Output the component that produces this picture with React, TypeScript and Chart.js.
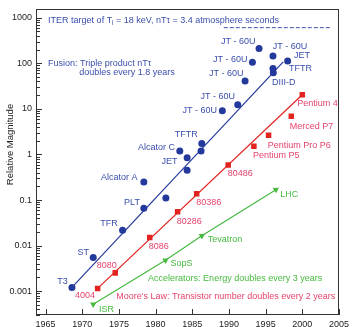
import { useEffect, useRef } from 'react';
import { Chart, registerables } from 'chart.js';

Chart.register(...registerables);

const FONT = '"Liberation Sans", Arial, Helvetica, sans-serif';
const BLUE = '#24399c';
const BLUE_TEXT = '#3b4eab';
const RED = '#e2231f';
const RED_TEXT = '#e4436c';
const GREEN = '#46b93f';
const AXIS = '#333333';

// Fusion devices (triple product)
const fusionNames = ['T3', 'ST', 'TFR', 'PLT', 'Alcator A', '?', 'Alcator C', 'JET', 'JET', 'TFTR', 'TFTR',
  'JT-60U', 'JT-60U', 'JT-60U', 'JT-60U', 'JT-60U', 'JT-60U', 'JET', 'TFTR', 'DIII-D'];
const fusionYears = [1968.6, 1971.5, 1975.5, 1978.4, 1978.4, 1981.4, 1983.3, 1984.3, 1984.3, 1986.3, 1986.2,
  1989.1, 1991.2, 1992.2, 1993.2, 1994.1, 1996.0, 1998.0, 1996.0, 1996.05];
const fusionValues = [0.00121, 0.0055, 0.0218, 0.0656, 0.25, 0.111, 1.19, 0.85, 0.45, 1.75, 1.19,
  9.1, 12.4, 41, 105, 211, 144, 112, 77, 62];
const fusionFitYears = [1968.6, 1997.4];
const fusionFitValues = [0.00121, 108];

// Intel processors (transistor count)
const intelNames = ['4004', '8080', '8086', '80286', '80386', '80486', 'Pentium P5', 'Pentium Pro P6', 'Merced P7', 'Pentium 4'];
const intelYears = [1972.1, 1974.5, 1979.2, 1983.0, 1985.6, 1989.9, 1993.4, 1995.4, 1998.5, 2000.0];
const intelValues = [0.00115, 0.00252, 0.0151, 0.0556, 0.137, 0.587, 1.52, 2.65, 6.9, 20.4];
const intelFitYears = [1972.1, 2000.0];
const intelFitValues = [0.00115, 20.4];

// Accelerators (energy)
const accelNames = ['ISR', 'SopS', 'Tevatron', 'LHC'];
const accelYears = [1971.5, 1981.35, 1986.3, 1996.4];
const accelValues = [0.000515, 0.00476, 0.0164, 0.168];
const accelMarkerRotation = [180, 58, 58, 58];

// ITER target
const iterYears = [1989.3, 2004.0];
const iterValues = [605, 605];

const xTickValues = [1965, 1970, 1975, 1980, 1985, 1990, 1995, 2000, 2005];
const yTickValues = [0.001, 0.01, 0.1, 1, 10, 100, 1000];
const yTickLabels = ['0.001', '0.01', '0.1', '1', '10', '100', '1000'];

type Part = { t: string; sub?: boolean };
type Note = { parts: Part[]; x: number; y: number; align: 'left' | 'right'; color: string };

const note = (t: string, x: number, y: number, align: 'left' | 'right', color: string): Note => ({ parts: [{ t }], x, y, align, color });

const notes: Note[] = [
  { parts: [{ t: 'ITER target of T' }, { t: 'i', sub: true }, { t: ' = 18 keV, nT\u03c4 = 3.4 atmosphere seconds' }], x: 1965.35, y: 877, align: 'left', color: BLUE_TEXT },
  note('Fusion: Triple product nT\u03c4', 1965.35, 99.6, 'left', BLUE_TEXT),
  note('doubles every 1.8 years', 1969.6, 62.4, 'left', BLUE_TEXT),
  note('JT - 60U', 1993.63, 296, 'right', BLUE_TEXT),
  note('JT - 60U', 1995.97, 238, 'left', BLUE_TEXT),
  note('JET', 1998.86, 152, 'left', BLUE_TEXT),
  note('JT - 60U', 1992.52, 124, 'right', BLUE_TEXT),
  note('TFTR', 1998.19, 75, 'left', BLUE_TEXT),
  note('JT - 60U', 1991.99, 60, 'right', BLUE_TEXT),
  note('DIII-D', 1995.87, 37.8, 'left', BLUE_TEXT),
  note('JT - 60U', 1990.82, 18.7, 'right', BLUE_TEXT),
  note('JT - 60U', 1988.36, 9.27, 'right', BLUE_TEXT),
  note('TFTR', 1982.6, 2.74, 'left', BLUE_TEXT),
  note('Alcator C', 1982.64, 1.45, 'right', BLUE_TEXT),
  note('JET', 1983.0, 0.683, 'right', BLUE_TEXT),
  note('Alcator A', 1977.55, 0.31, 'right', BLUE_TEXT),
  note('PLT', 1977.87, 0.0887, 'right', BLUE_TEXT),
  note('TFR', 1974.83, 0.03, 'right', BLUE_TEXT),
  note('ST', 1970.94, 0.00721, 'right', BLUE_TEXT),
  note('T3', 1968.03, 0.00166, 'right', BLUE_TEXT),
  note('4004', 1971.74, 0.000822, 'right', RED_TEXT),
  note('8080', 1971.97, 0.00365, 'left', RED_TEXT),
  note('8086', 1979.08, 0.00975, 'left', RED_TEXT),
  note('80286', 1982.87, 0.0337, 'left', RED_TEXT),
  note('80386', 1985.55, 0.0887, 'left', RED_TEXT),
  note('80486', 1989.84, 0.38, 'left', RED_TEXT),
  note('Pentium 4', 1999.32, 13.0, 'left', RED_TEXT),
  note('Merced P7', 1998.28, 4.16, 'left', RED_TEXT),
  note('Pentium Pro P6', 1995.29, 1.6, 'left', RED_TEXT),
  note('Pentium P5', 1993.28, 0.955, 'left', RED_TEXT),
  note("Moore's Law: Transistor number doubles every 2 years", 1974.65, 0.00078, 'left', RED_TEXT),
  note('LHC', 1996.98, 0.135, 'left', GREEN),
  note('Tevatron', 1987.12, 0.01346, 'left', GREEN),
  note('SopS', 1982.02, 0.00404, 'left', GREEN),
  note('ISR', 1972.28, 0.000401, 'left', GREEN),
  note('Accelerators: Energy doubles every 3 years', 1978.98, 0.0019, 'left', GREEN),
];

const pts = (xs: number[], ys: number[]) => xs.map((x, i) => ({ x, y: ys[i] }));

const decorPlugin = {
  id: 'decor',
  afterDatasetsDraw(chart: any) {
    const { ctx, chartArea: a, scales } = chart;
    const xs = scales.x;
    const ys = scales.y;
    ctx.save();
    // frame
    ctx.strokeStyle = AXIS;
    ctx.lineWidth = 1;
    ctx.strokeRect(Math.round(a.left) + 0.5, Math.round(a.top) + 0.5, Math.round(a.right - a.left) - 1, Math.round(a.bottom - a.top) - 1);
    // y ticks (inside)
    ctx.beginPath();
    for (let e = -4; e <= 3; e++) {
      for (let m = 1; m <= 9; m++) {
        const v = m * Math.pow(10, e);
        if (v < ys.min || v > ys.max) continue;
        const py = Math.round(ys.getPixelForValue(v)) + 0.5;
        const len = m === 1 ? 6 : 4;
        ctx.moveTo(a.left, py);
        ctx.lineTo(a.left + len, py);
      }
    }
    // x ticks (inside)
    xTickValues.forEach((v) => {
      const px = Math.round(xs.getPixelForValue(v)) + 0.5;
      ctx.moveTo(px, a.bottom);
      ctx.lineTo(px, a.bottom - 6);
    });
    ctx.stroke();

    // notes
    ctx.textBaseline = 'middle';
    notes.forEach((n) => {
      const px = xs.getPixelForValue(n.x);
      const py = ys.getPixelForValue(n.y);
      const widths = n.parts.map((p) => {
        ctx.font = `${p.sub ? 6.5 : 9}px ${FONT}`;
        return ctx.measureText(p.t).width;
      });
      const total = widths.reduce((s, w) => s + w, 0);
      let cx = n.align === 'left' ? px : px - total;
      ctx.fillStyle = n.color;
      ctx.textAlign = 'left';
      n.parts.forEach((p, i) => {
        ctx.font = `${p.sub ? 6.5 : 9}px ${FONT}`;
        ctx.fillText(p.t, cx, py + (p.sub ? 2.5 : 0));
        cx += widths[i];
      });
    });

    // y axis title
    ctx.translate(10, 144.5);
    ctx.rotate(-Math.PI / 2);
    ctx.font = `9.5px ${FONT}`;
    ctx.fillStyle = '#222';
    ctx.textAlign = 'center';
    ctx.fillText('Relative Magnitude', 0, 0);
    ctx.restore();
  },
};

export default function App() {
  const ref = useRef<HTMLCanvasElement | null>(null);

  useEffect(() => {
    if (!ref.current) return;
    const chart = new Chart(ref.current, {
      type: 'scatter',
      data: {
        datasets: [
          {
            label: 'Fusion',
            data: pts(fusionYears, fusionValues),
            pointStyle: 'circle',
            pointRadius: 3.5,
            pointBackgroundColor: BLUE,
            pointBorderWidth: 0,
            showLine: false,
          },
          {
            label: 'Intel',
            data: pts(intelYears, intelValues),
            pointStyle: 'rect',
            pointRadius: 3.9,
            pointBackgroundColor: RED,
            pointBorderWidth: 0,
            showLine: false,
          },
          {
            label: 'Accelerators',
            data: pts(accelYears, accelValues),
            pointStyle: 'triangle',
            pointRadius: 3.6,
            pointRotation: accelMarkerRotation,
            pointBackgroundColor: GREEN,
            pointBorderWidth: 0,
            showLine: false,
          },
          {
            label: 'Fusion fit',
            data: pts(fusionFitYears, fusionFitValues),
            showLine: true,
            borderColor: BLUE,
            borderWidth: 1.2,
            pointRadius: 0,
          },
          {
            label: 'Intel fit',
            data: pts(intelFitYears, intelFitValues),
            showLine: true,
            borderColor: RED,
            borderWidth: 1.2,
            pointRadius: 0,
          },
          {
            label: 'Accelerator fit',
            data: pts(accelYears, accelValues),
            showLine: true,
            borderColor: GREEN,
            borderWidth: 1.2,
            pointRadius: 0,
          },
          {
            label: 'ITER',
            data: pts(iterYears, iterValues),
            showLine: true,
            borderColor: BLUE_TEXT,
            borderWidth: 1,
            borderDash: [4, 2],
            pointRadius: 0,
          },
        ],
      },
      options: {
        animation: false,
        responsive: false,
        maintainAspectRatio: false,
        layout: { padding: { top: 7, right: 10, left: 0, bottom: 0 } },
        plugins: { legend: { display: false }, tooltip: { enabled: false } },
        scales: {
          x: {
            type: 'linear',
            min: 1963.7,
            max: 2005,
            grid: { display: false, drawTicks: false },
            border: { display: false },
            ticks: {
              autoSkip: false,
              maxRotation: 0,
              padding: 4,
              color: '#222',
              font: { family: FONT, size: 9 },
              callback: (v: any) => String(v),
            },
            afterBuildTicks: (scale: any) => {
              scale.ticks = xTickValues.map((value) => ({ value }));
            },
            afterFit: (scale: any) => {
              scale.height = 12;
            },
          },
          y: {
            type: 'logarithmic',
            min: Math.pow(10, -3.52),
            max: Math.pow(10, 3.183),
            grid: { display: false, drawTicks: false },
            border: { display: false },
            ticks: {
              autoSkip: false,
              padding: 4,
              color: '#222',
              font: { family: FONT, size: 9 },
              callback: (v: any) => {
                const i = yTickValues.findIndex((t) => Math.abs(Math.log10(t) - Math.log10(v)) < 1e-6);
                return i >= 0 ? yTickLabels[i] : '';
              },
            },
            afterBuildTicks: (scale: any) => {
              scale.ticks = yTickValues.map((value) => ({ value }));
            },
            afterFit: (scale: any) => {
              scale.width = 36;
            },
          },
        },
      },
      plugins: [decorPlugin],
    });
    return () => chart.destroy();
  }, []);

  return (
    <div style={{ position: 'fixed', left: 0, top: 0, width: 353, height: 327, background: '#fff' }}>
      <canvas ref={ref} width={353} height={327} style={{ display: 'block' }} />
    </div>
  );
}
